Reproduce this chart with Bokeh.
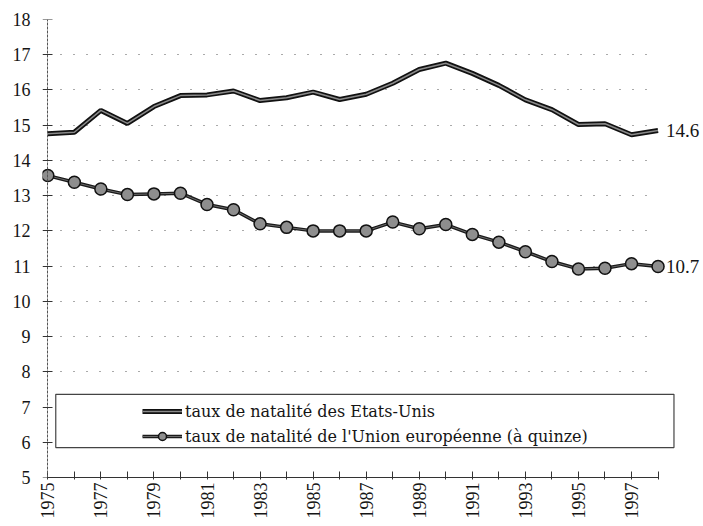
from bokeh.plotting import figure
from bokeh.models import (Range1d, FixedTicker, Legend, LegendItem, Label,
                          BoxAnnotation, ColumnDataSource, LinearAxis)
from bokeh.embed import file_html
from bokeh.resources import INLINE
import math

# ---- data ----
years = list(range(1975, 1999))
us_rate = [14.76, 14.80, 15.42, 15.05, 15.53, 15.84, 15.86, 15.97, 15.70, 15.78,
           15.94, 15.73, 15.88, 16.19, 16.58, 16.76, 16.47, 16.13, 15.72, 15.44,
           15.02, 15.04, 14.73, 14.85]
eu_rate = [13.57, 13.38, 13.19, 13.03, 13.05, 13.07, 12.75, 12.60, 12.20, 12.10,
           12.00, 12.00, 12.00, 12.25, 12.06, 12.18, 11.90, 11.68, 11.41, 11.13,
           10.92, 10.94, 11.07, 10.99]
end_labels = ["14.6", "10.7"]
series_names = ["taux de natalité des Etats-Unis",
                "taux de natalité de l'Union européenne (à quinze)"]
y_ticks = list(range(5, 19))
x_ticks = years
x_tick_labels = {y: (str(y) if y % 2 == 1 else "") for y in years}

NUM_FONT = "Liberation Serif"
TXT_FONT = "DejaVu Serif"
INK = "#151515"

src = ColumnDataSource(data=dict(year=years, us=us_rate, eu=eu_rate))

p = figure(output_backend="svg", toolbar_location=None,
           x_range=Range1d(1974.8, 1999.6), y_range=Range1d(5, 18),
           frame_width=658, frame_height=458,
           min_border_left=42, min_border_top=19, min_border_right=2,
           min_border_bottom=20,
           background_fill_color="white", border_fill_color="white")
p.outline_line_color = None

# x axis
p.xaxis.ticker = FixedTicker(ticks=x_ticks)
p.xaxis.major_label_overrides = x_tick_labels
p.xaxis.major_label_orientation = math.pi / 2
p.xaxis.bounds = (years[0], years[-1])
p.xaxis.minor_tick_line_color = None
p.xaxis.major_tick_in = 6
p.xaxis.major_tick_out = 2
p.xaxis.major_label_standoff = 3
p.xaxis.axis_line_color = "#333"
p.xaxis.major_tick_line_color = "#333"
p.xaxis.major_label_text_font = NUM_FONT
p.xaxis.major_label_text_font_size = "18px"
p.xaxis.major_label_text_color = INK

# y axis labels (in the left panel)
p.yaxis.ticker = FixedTicker(ticks=y_ticks)
p.yaxis.axis_line_color = None
p.yaxis.major_tick_line_color = None
p.yaxis.minor_tick_line_color = None
p.yaxis.major_tick_in = 0
p.yaxis.major_tick_out = 0
p.yaxis.major_label_standoff = 12
p.yaxis.major_label_text_font = NUM_FONT
p.yaxis.major_label_text_font_size = "18px"
p.yaxis.major_label_text_color = INK

# y axis line + crossing ticks, placed at the first year
yax_line = LinearAxis(ticker=FixedTicker(ticks=y_ticks), fixed_location=years[0],
                      axis_line_color="#555", axis_line_dash="3 1",
                      major_tick_line_color="#333", minor_tick_line_color=None,
                      major_tick_in=5, major_tick_out=5,
                      major_label_standoff=0, major_label_text_alpha=0,
                      major_label_text_font_size="1px")
p.add_layout(yax_line, "left")

# dotted horizontal grid
p.xgrid.grid_line_color = None
p.ygrid.ticker = FixedTicker(ticks=y_ticks[1:])
p.ygrid.grid_line_color = "#555"
p.ygrid.grid_line_dash = "1 12"
p.ygrid.grid_line_width = 1.2
try:
    p.ygrid.cross_bounds = (years[0], years[-1])
except Exception:
    pass

# series
us_outer = p.line("year", "us", source=src, line_color="#111", line_width=5)
us_inner = p.line("year", "us", source=src, line_color="#8a8a8a", line_width=1.5)
eu_outer = p.line("year", "eu", source=src, line_color="#1a1a1a", line_width=3.5)
eu_inner = p.line("year", "eu", source=src, line_color="#6a6a6a", line_width=1)
eu_marks = p.scatter("year", "eu", source=src, marker="circle", size=12,
                     fill_color="#8e8e8e", line_color="#111", line_width=1.5)

# end-of-series labels
for vals, txt in zip([us_rate, eu_rate], end_labels):
    p.add_layout(Label(x=years[-1], y=vals[-1], text=txt, x_offset=8,
                       text_baseline="middle", text_font=NUM_FONT,
                       text_font_size="19px", text_color=INK))

# legend frame
box = BoxAnnotation(left=1975.3, right=1998.6, bottom=5.85, top=7.36,
                    fill_color="white", fill_alpha=1.0,
                    line_color="#444", line_width=1.2, line_alpha=1.0)
p.add_layout(box)

legend = Legend(items=[
    LegendItem(label=series_names[0], renderers=[us_outer, us_inner]),
    LegendItem(label=series_names[1], renderers=[eu_outer, eu_inner, eu_marks]),
], location=(100, 31), padding=0, margin=0, spacing=5,
   glyph_width=40, glyph_height=20, label_standoff=3,
   border_line_alpha=0, background_fill_alpha=0,
   label_text_font=TXT_FONT, label_text_font_size="16px",
   label_text_color=INK)
p.add_layout(legend)

open("out.html", "w").write(file_html(p, INLINE))
